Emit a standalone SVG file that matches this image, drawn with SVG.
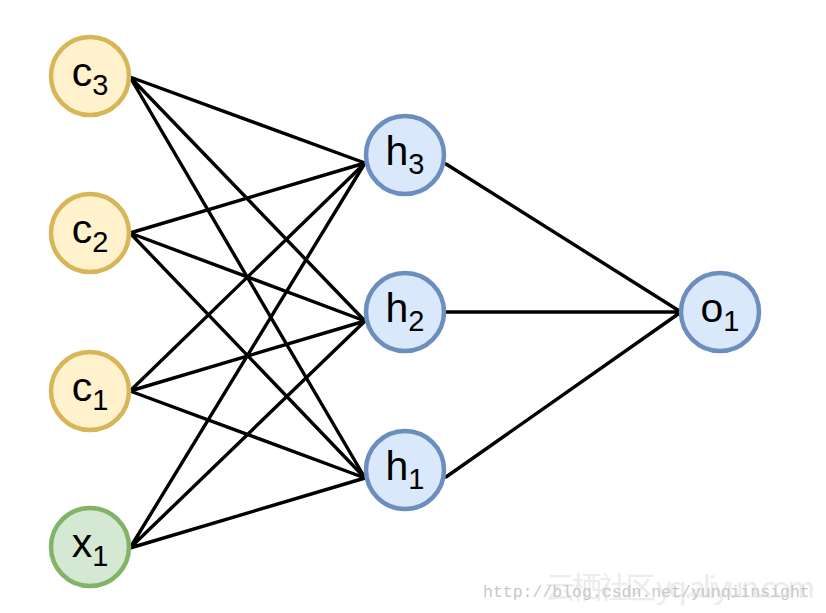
<svg xmlns="http://www.w3.org/2000/svg" width="826" height="613" viewBox="0 0 826 613">
<style>
.lbl{font-family:"Liberation Sans",Arial,sans-serif;font-size:41px;fill:#000;text-anchor:middle}
.sub{font-size:29px}
.y{fill:#fff2cc;stroke:#d6b656;stroke-width:4.5}
.b{fill:#dae8fc;stroke:#6c8ebf;stroke-width:4.5}
.g{fill:#d5e8d4;stroke:#82b366;stroke-width:4.5}
.e{stroke:#000;stroke-width:3.4;fill:none;stroke-linecap:round}
</style>
<rect width="826" height="613" fill="#fff"/>
<g id="connectors" class="e">
<path d="M130,77L365,163M130,77L365,321M130,77L365,478"/>
<path d="M130,233L365,163M130,233L365,321M130,233L365,478"/>
<path d="M130,391L365,163M130,391L365,321M130,391L365,478"/>
<path d="M130,548L365,163M130,548L365,321M130,548L365,478"/>
<path d="M446,164L681,312M446,312L681,312M446,477L681,312"/>
</g>
<g id="c3"><circle class="y" cx="90" cy="76" r="39"/><text class="lbl" x="90" y="86">c<tspan class="sub" dy="9">3</tspan></text></g>
<g id="c2"><circle class="y" cx="90" cy="233" r="39"/><text class="lbl" x="90" y="243">c<tspan class="sub" dy="9">2</tspan></text></g>
<g id="c1"><circle class="y" cx="90" cy="391" r="39"/><text class="lbl" x="90" y="401">c<tspan class="sub" dy="9">1</tspan></text></g>
<g id="x1"><circle class="g" cx="90" cy="547" r="39"/><text class="lbl" x="90" y="557">x<tspan class="sub" dy="9">1</tspan></text></g>
<g id="h3"><circle class="b" cx="405" cy="155" r="39"/><text class="lbl" x="405" y="165">h<tspan class="sub" dy="9">3</tspan></text></g>
<g id="h2"><circle class="b" cx="405" cy="312" r="39"/><text class="lbl" x="405" y="322">h<tspan class="sub" dy="9">2</tspan></text></g>
<g id="h1"><circle class="b" cx="405" cy="470" r="39"/><text class="lbl" x="405" y="480">h<tspan class="sub" dy="9">1</tspan></text></g>
<g id="o1"><circle class="b" cx="720" cy="312" r="39"/><text class="lbl" x="720" y="322">o<tspan class="sub" dy="9">1</tspan></text></g>
<g id="watermark">
<text x="545" y="598" font-family="'Noto Sans CJK SC','Liberation Sans',sans-serif" font-size="30" fill="#ececec" textLength="270">云栖社区 yq.aliyun.com</text>
<text x="483" y="597" font-family="'Liberation Mono',monospace" font-size="16.5" fill="#c8c8c8">http://blog.csdn.net/yunqiinsight</text>
</g>
</svg>
